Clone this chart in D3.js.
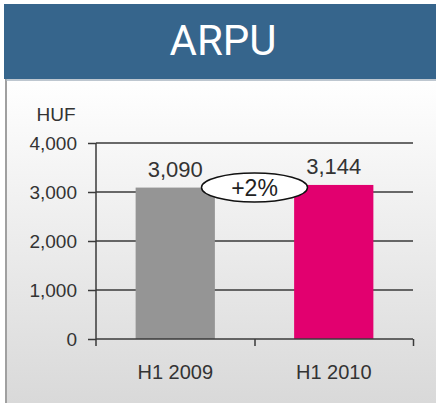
<!DOCTYPE html>
<html lang="en">
<head>
<meta charset="UTF-8">
<title>ARPU</title>
<script src="https://cdnjs.cloudflare.com/ajax/libs/d3/7.8.5/d3.min.js"></script>
<style>
    html, body { margin: 0; padding: 0; background: #fff; }
    svg { display: block; font-family: 'Liberation Sans', Arial, sans-serif; }
</style>
</head>
<body>
<svg id="chart" width="436" height="403"></svg>
<script>
    // chart data
    const title = "ARPU";
    const unit = "HUF";
    const categories = ["H1 2009", "H1 2010"];
    const values = [3090, 3144];
    const valueLabels = ["3,090", "3,144"];
    const barColors = ["#959595", "#E2006F"];
    const yTicks = [0, 1000, 2000, 3000, 4000];
    const changeLabel = "+2%";

    const W = 436, H = 403;
    const svg = d3.select("#chart");

    // panel background with soft gradient
    const defs = svg.append("defs");
    const grad = defs.append("linearGradient")
        .attr("id", "bg").attr("x1", 0).attr("y1", 0).attr("x2", 0).attr("y2", 1);
    grad.append("stop").attr("offset", "0%").attr("stop-color", "#ffffff");
    grad.append("stop").attr("offset", "100%").attr("stop-color", "#d9d9d9");

    svg.append("rect").attr("x", 6).attr("y", 79).attr("width", W - 6).attr("height", H - 79)
        .attr("fill", "url(#bg)");
    svg.append("line").attr("x1", 6).attr("x2", 6).attr("y1", 79).attr("y2", H)
        .attr("stroke", "#a0a0a0").attr("stroke-width", 2);

    // header band
    svg.append("rect").attr("x", 4).attr("y", 4).attr("width", W - 4).attr("height", 75)
        .attr("fill", "#36658C");
    svg.append("line").attr("x1", 6).attr("x2", W).attr("y1", 80).attr("y2", 80)
        .attr("stroke", "#a9b4c0").attr("stroke-width", 1.5);
    svg.append("text").attr("x", 223).attr("y", 55)
        .attr("text-anchor", "middle").attr("fill", "#fff")
        .attr("font-family", "Roboto, 'Open Sans', sans-serif")
        .attr("font-size", 42).text(title);

    // scales
    const x0 = 96, x1 = 413;
    const y = d3.scaleLinear().domain([0, 4000]).range([339, 143]);
    const x = d3.scaleBand().domain(categories).range([x0, x1])
        .paddingInner(0.5).paddingOuter(0.25);
    const xEdge = d3.scaleLinear().domain([0, categories.length]).range([x0, x1]);

    const ink = "#3a3a3a";

    // gridlines
    svg.append("g").selectAll("line").data(yTicks.slice(1)).join("line")
        .attr("x1", x0).attr("x2", x1)
        .attr("y1", d => y(d)).attr("y2", d => y(d))
        .attr("stroke", ink).attr("stroke-width", 1.5);

    // bars
    svg.append("g").selectAll("rect").data(values).join("rect")
        .attr("x", (d, i) => x(categories[i]))
        .attr("width", x.bandwidth())
        .attr("y", d => y(d))
        .attr("height", d => y(0) - y(d))
        .attr("fill", (d, i) => barColors[i]);

    // y axis
    const yAxis = svg.append("g").attr("transform", `translate(${x0},0)`)
        .call(d3.axisLeft(y).tickValues(yTicks).tickSize(8).tickPadding(11)
            .tickFormat(d3.format(",")));
    yAxis.select(".domain").remove();
    yAxis.append("line").attr("x1", 0).attr("x2", 0).attr("y1", y(4000)).attr("y2", 346)
        .attr("stroke", ink).attr("stroke-width", 1.5);
    yAxis.selectAll(".tick line").attr("stroke", ink).attr("stroke-width", 1.5);
    yAxis.selectAll(".tick text").attr("fill", "#333").attr("font-size", 19)
        .attr("font-family", "'Liberation Sans', Arial, sans-serif");

    // x axis with ticks at band edges
    const xAxis = svg.append("g").attr("transform", `translate(0,${y(0)})`)
        .call(d3.axisBottom(xEdge).tickValues(d3.range(1, categories.length + 1))
            .tickSize(7).tickFormat(""));
    xAxis.select(".domain").attr("d", `M${x0},0H${x1}`)
        .attr("stroke", ink).attr("stroke-width", 1.5);
    xAxis.selectAll(".tick line").attr("stroke", ink).attr("stroke-width", 1.5);

    svg.append("g").selectAll("text").data(categories).join("text")
        .attr("x", d => x(d) + x.bandwidth() / 2)
        .attr("y", 379)
        .attr("text-anchor", "middle").attr("fill", "#333").attr("font-size", 20)
        .text(d => d);

    // unit label
    svg.append("text").attr("x", 56).attr("y", 121).attr("text-anchor", "middle")
        .attr("fill", "#333").attr("font-size", 19).text(unit);

    // value labels
    svg.append("g").selectAll("text").data(values).join("text")
        .attr("x", (d, i) => x(categories[i]) + x.bandwidth() / 2)
        .attr("y", d => y(d) - 11)
        .attr("text-anchor", "middle").attr("fill", "#333").attr("font-size", 22)
        .text((d, i) => valueLabels[i]);

    // change bubble between the bars
    const cx = (x(categories[0]) + x.bandwidth() + x(categories[1])) / 2;
    const cy = y(values[0]);
    svg.append("ellipse").attr("cx", cx).attr("cy", cy).attr("rx", 53).attr("ry", 14.5)
        .attr("fill", "#fff").attr("stroke", "#111").attr("stroke-width", 1.5);
    svg.append("text").attr("x", cx).attr("y", cy + 8).attr("text-anchor", "middle")
        .attr("fill", "#222").attr("font-size", 23).text(changeLabel);
</script>
</body>
</html>
